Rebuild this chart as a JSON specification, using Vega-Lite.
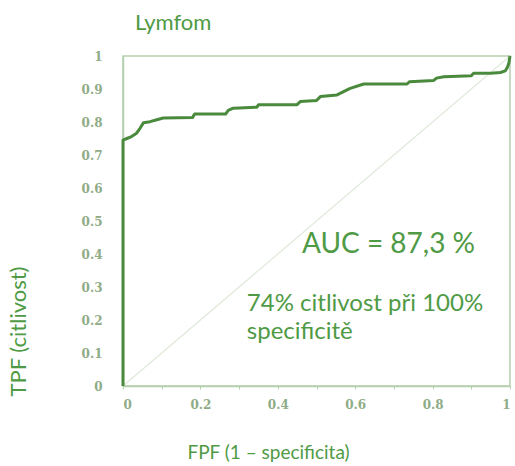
{
  "$schema": "https://vega.github.io/schema/vega-lite/v6.json",
  "width": 387,
  "height": 330,
  "autosize": "none",
  "padding": {"left": 123, "top": 56, "right": 5, "bottom": 80},
  "background": "white",
  "config": {
    "view": {"stroke": "#b5cfad", "strokeWidth": 1.5},
    "font": "Lato"
  },
  "title": {
    "text": "Lymfom",
    "anchor": "start",
    "frame": "group",
    "dx": 12,
    "offset": -2,
    "baseline": "alphabetic",
    "font": "Lato",
    "fontSize": 22,
    "fontWeight": "normal",
    "color": "#4f9a45"
  },
  "encoding": {
    "x": {
      "field": "fpf", "type": "quantitative",
      "scale": {"domain": [0, 1], "nice": false},
      "axis": {
        "title": "FPF (1 – specificita)",
        "values": [0, 0.1, 0.2, 0.3, 0.4, 0.5, 0.6, 0.7, 0.8, 0.9, 1],
        "labelExpr": "(round(datum.value*10) % 2 == 0) ? format(datum.value, '~g') : ''",
        "labelOverlap": false,
        "grid": false,
        "domainColor": "#b5cfad",
        "domainWidth": 1.5,
        "tickColor": "#b5cfad",
        "tickSize": 3,
        "labelFont": "DejaVu Serif",
        "labelFontSize": 12,
        "labelFontWeight": "bold",
        "labelColor": "#8fac87",
        "labelPadding": 10,
        "titleFont": "Lato",
        "titleFontSize": 19,
        "titleFontWeight": "normal",
        "titleColor": "#4f9a45",
        "titleX": 145,
        "titleY": 66,
        "titleAlign": "center",
        "titleBaseline": "middle"
      }
    },
    "y": {
      "field": "tpf", "type": "quantitative",
      "scale": {"domain": [0, 1], "nice": false},
      "axis": {
        "title": "TPF (citlivost)",
        "values": [0, 0.1, 0.2, 0.3, 0.4, 0.5, 0.6, 0.7, 0.8, 0.9, 1],
        "format": "~g",
        "labelOverlap": false,
        "grid": false,
        "ticks": false,
        "domainColor": "#b5cfad",
        "domainWidth": 1.5,
        "labelFont": "DejaVu Serif",
        "labelFontSize": 12,
        "labelFontWeight": "bold",
        "labelColor": "#8fac87",
        "labelPadding": 21,
        "titleFont": "Lato",
        "titleFontSize": 22,
        "titleFontWeight": "normal",
        "titleColor": "#4f9a45",
        "titleAngle": -90,
        "titleX": -105,
        "titleY": 275,
        "titleAlign": "center",
        "titleBaseline": "middle"
      }
    }
  },
  "layer": [
    {
      "data": {"values": [{"fpf": 0, "tpf": 0, "fpf2": 1, "tpf2": 1}]},
      "mark": {"type": "rule", "color": "#dfe9da", "strokeWidth": 1.2},
      "encoding": {
        "x2": {"field": "fpf2"},
        "y2": {"field": "tpf2"}
      }
    },
    {
      "data": {
        "values": [
          {"fpf": 0, "tpf": 0},
          {"fpf": 0, "tpf": 0.745},
          {"fpf": 0.01, "tpf": 0.75},
          {"fpf": 0.022, "tpf": 0.756},
          {"fpf": 0.035, "tpf": 0.766},
          {"fpf": 0.044, "tpf": 0.781},
          {"fpf": 0.053, "tpf": 0.798},
          {"fpf": 0.07, "tpf": 0.801},
          {"fpf": 0.085, "tpf": 0.806},
          {"fpf": 0.104, "tpf": 0.812},
          {"fpf": 0.18, "tpf": 0.814},
          {"fpf": 0.185, "tpf": 0.824},
          {"fpf": 0.265, "tpf": 0.824},
          {"fpf": 0.272, "tpf": 0.835},
          {"fpf": 0.285, "tpf": 0.842},
          {"fpf": 0.346, "tpf": 0.845},
          {"fpf": 0.35, "tpf": 0.852},
          {"fpf": 0.449, "tpf": 0.852},
          {"fpf": 0.458, "tpf": 0.862},
          {"fpf": 0.5, "tpf": 0.865},
          {"fpf": 0.51, "tpf": 0.877},
          {"fpf": 0.553, "tpf": 0.882},
          {"fpf": 0.57, "tpf": 0.892},
          {"fpf": 0.587, "tpf": 0.902},
          {"fpf": 0.622, "tpf": 0.915},
          {"fpf": 0.734, "tpf": 0.915},
          {"fpf": 0.74, "tpf": 0.922},
          {"fpf": 0.803, "tpf": 0.926},
          {"fpf": 0.81, "tpf": 0.933},
          {"fpf": 0.829, "tpf": 0.937},
          {"fpf": 0.9, "tpf": 0.94},
          {"fpf": 0.906, "tpf": 0.9475},
          {"fpf": 0.95, "tpf": 0.9475},
          {"fpf": 0.975, "tpf": 0.95},
          {"fpf": 0.988, "tpf": 0.955},
          {"fpf": 0.993, "tpf": 0.965},
          {"fpf": 0.997, "tpf": 0.978},
          {"fpf": 1, "tpf": 1}
        ]
      },
      "mark": {"type": "line", "color": "#4a8a3c", "strokeWidth": 3, "strokeJoin": "round"},
      "encoding": {
        "order": {"field": "fpf", "type": "quantitative"}
      }
    },
    {
      "data": {"values": [{"label": "AUC = 87,3 %", "fpf": 0.4625, "tpf": 0.403}]},
      "mark": {"type": "text", "align": "left", "baseline": "alphabetic", "font": "Lato", "fontSize": 28, "color": "#4f9a45"},
      "encoding": {
        "text": {"field": "label"}
      }
    },
    {
      "data": {"values": [
        {"label": "74% citlivost při 100%", "fpf": 0.32, "tpf": 0.227},
        {"label": "specificitě", "fpf": 0.32, "tpf": 0.142}
      ]},
      "mark": {"type": "text", "align": "left", "baseline": "alphabetic", "font": "Lato", "fontSize": 24, "color": "#4f9a45"},
      "encoding": {
        "text": {"field": "label"}
      }
    }
  ]
}
